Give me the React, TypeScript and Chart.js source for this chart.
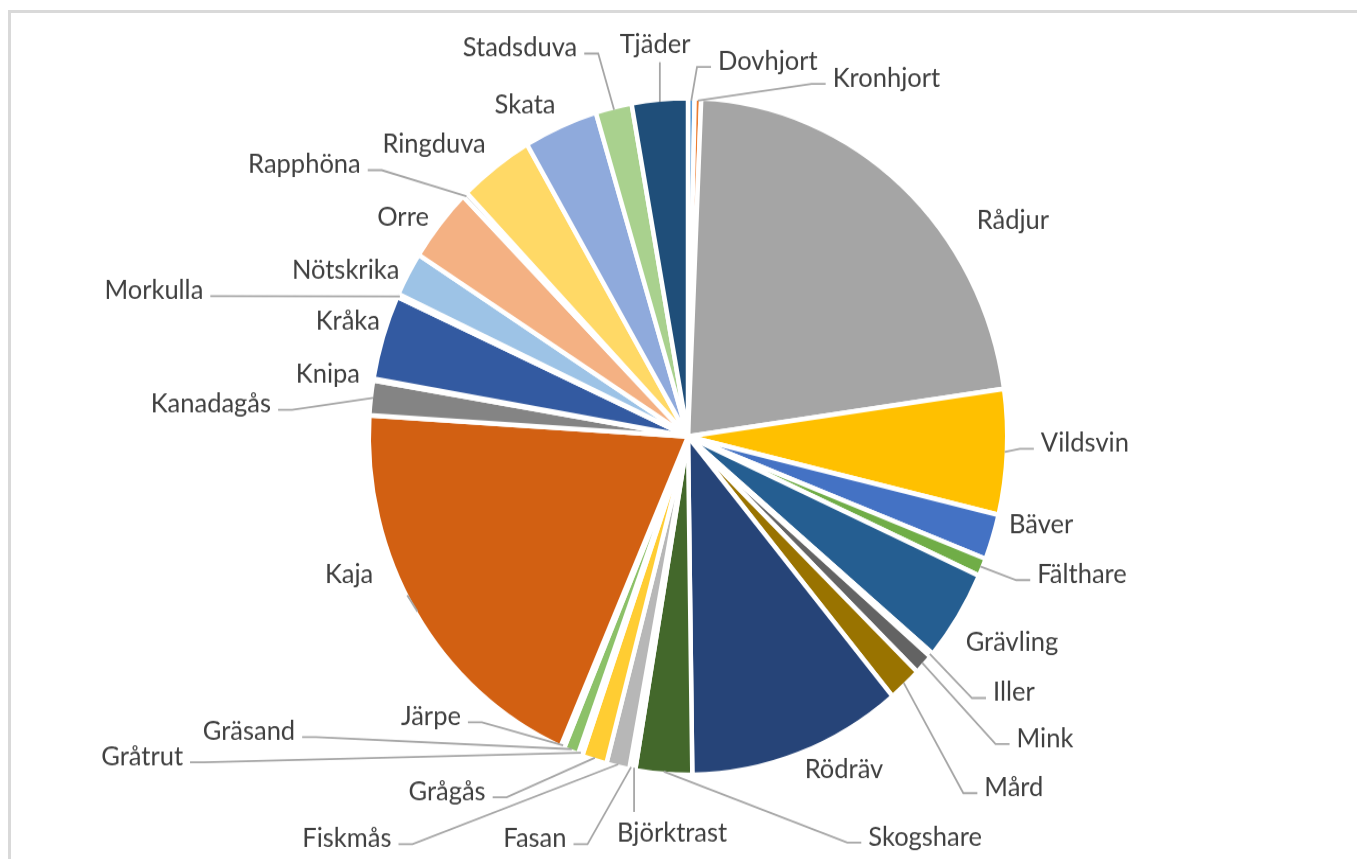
import React, { useEffect, useRef } from "react";
import { Chart, registerables } from "chart.js";

Chart.register(...registerables);

// ---- data (share of total, %) ----
const CATEGORIES: string[] = [
  "Dovhjort", "Kronhjort", "Rådjur", "Vildsvin", "Bäver", "Fälthare", "Grävling",
  "Iller", "Mink", "Mård", "Rödräv", "Skogshare", "Björktrast", "Fasan", "Fiskmås",
  "Grågås", "Gråtrut", "Gräsand", "Järpe", "Kaja", "Kanadagås", "Knipa", "Kråka",
  "Morkulla", "Nötskrika", "Orre", "Rapphöna", "Ringduva", "Skata", "Stadsduva", "Tjäder",
];

const VALUES: number[] = [
  0.33, 0.33, 22.08, 5.97, 2.17, 0.86, 4.35,
  0.18, 0.97, 1.68, 10.85, 2.86, 0.15, 0.15, 1.17,
  1.26, 0.22, 0.75, 0.19, 19.46, 1.65, 0.08, 4.04,
  0.14, 2.11, 3.53, 0.25, 3.78, 3.75, 1.83, 2.83,
];

const COLORS: string[] = [
  "#5B9BD5", "#ED7D31", "#A5A5A5", "#FFC000", "#4472C4", "#70AD47", "#255E91",
  "#9E480E", "#636363", "#997300", "#264478", "#43682B", "#7CAFDD", "#F1975A", "#B7B7B7",
  "#FFCD33", "#698ED0", "#8CC168", "#327DC2", "#D26012", "#848484", "#CC9A00", "#335AA1",
  "#5A8A39", "#9DC3E6", "#F4B183", "#C9C9C9", "#FFD966", "#8FAADC", "#A9D18E", "#1F4E79",
];

// ---- label layout: label centre relative to pie centre, in pie radii ----
const LABEL_POS: [number, number][] = [
  [0.252, -1.118], [0.626, -1.068], [1.025, -0.644], [1.252, 0.018], [1.114, 0.26],
  [1.243, 0.409], [1.022, 0.61], [1.028, 0.76], [1.126, 0.897], [1.028, 1.043],
  [0.492, 0.99], [0.748, 1.19], [-0.05, 1.177], [-0.483, 1.195], [-1.076, 1.195],
  [-0.76, 1.055], [-1.722, 0.951], [-1.385, 0.876], [-0.811, 0.832], [-1.069, 0.409],
  [-1.505, -0.098], [-1.136, -0.186], [-1.073, -0.344], [-1.685, -0.436], [-1.08, -0.497],
  [-0.899, -0.653], [-1.21, -0.811], [-0.801, -0.871], [-0.514, -0.99], [-0.53, -1.158],
  [-0.104, -1.168],
];

// leader line style per label
const LEADER: string[] = [
  "side", "side", "none", "side", "none", "side", "none",
  "side", "side", "side", "none", "side", "top", "side", "side",
  "side", "side", "side", "side", "kaja", "side", "none", "none",
  "side", "none", "none", "side", "none", "none", "side", "bottom",
];

const FONT_SIZE = 25.5;
const FONT_FAMILY = "Lato, Carlito, 'Open Sans', sans-serif";
const TEXT_COLOR = "#404040";
const LEADER_COLOR = "#A6A6A6";
const STRETCH = 1.06;
const BORDER = 4.5;

const labelPlugin = {
  id: "outsideLabels",
  afterDatasetsDraw(chart: any) {
    const ctx: CanvasRenderingContext2D = chart.ctx;
    const meta = chart.getDatasetMeta(0);
    ctx.save();
    ctx.font = `${FONT_SIZE}px ${FONT_FAMILY}`;
    ctx.textAlign = "center";
    ctx.textBaseline = "alphabetic";
    const capH = 24 * 0.72;
    meta.data.forEach((arc: any, i: number) => {
      const p = arc.getProps(["x", "y", "startAngle", "endAngle", "outerRadius"], true);
      const R = p.outerRadius - BORDER / 2;
      const mid = (p.startAngle + p.endAngle) / 2;
      const ax = p.x + Math.cos(mid) * R;
      const ay = p.y + Math.sin(mid) * R;
      const [nx, ny] = LABEL_POS[i];
      const cx = p.x + nx * R;
      const cy = p.y + ny * R;
      const text = CATEGORIES[i];
      const w = ctx.measureText(text).width;
      const base = cy + capH / 2;

      ctx.strokeStyle = LEADER_COLOR;
      ctx.lineWidth = 1.8;
      ctx.lineJoin = "miter";
      const mode = LEADER[i];
      if (mode === "side") {
        const toRight = cx > ax;
        const ex = toRight ? cx - w / 2 - 7 : cx + w / 2 + 7;
        const ey = base - 3 / STRETCH;
        const bx = toRight ? ex - 14 : ex + 14;
        ctx.beginPath();
        ctx.moveTo(ax, ay);
        ctx.lineTo(bx, ey);
        ctx.lineTo(ex, ey);
        ctx.stroke();
      } else if (mode === "top") {
        ctx.beginPath();
        ctx.moveTo(ax, ay);
        ctx.lineTo(ax, cy - capH / 2 - 11 / STRETCH);
        ctx.stroke();
      } else if (mode === "bottom") {
        ctx.beginPath();
        ctx.moveTo(ax, ay);
        ctx.lineTo(ax, base + 9 / STRETCH);
        ctx.stroke();
      } else if (mode === "kaja") {
        const ex = cx + w / 2 + 34;
        const ey = base + 12 / STRETCH;
        ctx.beginPath();
        ctx.moveTo(ax, ay);
        ctx.lineTo(ex, ey);
        ctx.stroke();
      }

      ctx.fillStyle = TEXT_COLOR;
      ctx.fillText(text, cx, base);
    });
    ctx.restore();
  },
};

export default function App() {
  const canvasRef = useRef<HTMLCanvasElement | null>(null);

  useEffect(() => {
    if (!canvasRef.current) return;
    const side = 2 * (317 + BORDER / 2) + BORDER;
    const centreX = 688;
    const centreY = 436.5 / STRETCH;
    const canvasW = 1357;
    const canvasH = 811;
    const chart = new Chart(canvasRef.current, {
      type: "pie",
      data: {
        labels: CATEGORIES,
        datasets: [
          {
            data: VALUES,
            backgroundColor: COLORS,
            borderColor: "#FFFFFF",
            borderWidth: BORDER,
            borderAlign: "center",
          },
        ],
      },
      options: {
        responsive: true,
        maintainAspectRatio: false,
        animation: false,
        events: [],
        layout: {
          padding: {
            left: centreX - side / 2,
            right: canvasW - centreX - side / 2,
            top: centreY - side / 2,
            bottom: canvasH - centreY - side / 2,
          },
        },
        plugins: {
          legend: { display: false },
          tooltip: { enabled: false },
        },
      },
      plugins: [labelPlugin],
    } as any);
    return () => chart.destroy();
  }, []);

  return (
    <div
      style={{
        position: "fixed",
        left: 0,
        top: 0,
        width: 1357,
        height: 859,
        overflow: "hidden",
        background: "#FFFFFF",
      }}
    >
      <div
        style={{
          position: "absolute",
          left: 8,
          top: 10,
          width: 1400,
          height: 1000,
          border: "3px solid #D9D9D9",
          boxSizing: "content-box",
        }}
      />
      <div
        style={{
          position: "absolute",
          left: 0,
          top: 0,
          width: 1357,
          height: 811,
          transform: `scaleY(${STRETCH})`,
          transformOrigin: "0 0",
        }}
      >
        <canvas ref={canvasRef} />
      </div>
    </div>
  );
}
